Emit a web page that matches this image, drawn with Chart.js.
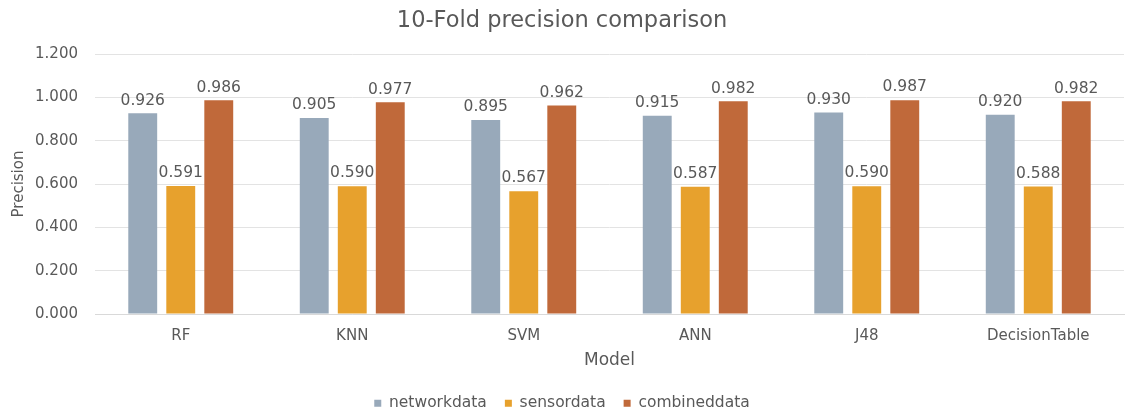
<!DOCTYPE html>
<html>
<head>
<meta charset="utf-8">
<title>10-Fold precision comparison</title>
<script src="https://cdn.jsdelivr.net/npm/chart.js@4.4.1/dist/chart.umd.min.js"></script>
<style>
  html, body { margin: 0; padding: 0; background: #ffffff; overflow: hidden; }
  #wrap { width: 1125px; height: 410px; }
</style>
</head>
<body>
<div id="wrap"><canvas id="chart" width="1125" height="410"></canvas></div>
<script>
// Models evaluated with 10-fold cross validation
const models = ['RF', 'KNN', 'SVM', 'ANN', 'J48', 'DecisionTable'];

// Precision per feature set
const networkdata  = [0.926, 0.905, 0.895, 0.915, 0.930, 0.920];
const sensordata   = [0.591, 0.590, 0.567, 0.587, 0.590, 0.588];
const combineddata = [0.986, 0.977, 0.962, 0.982, 0.987, 0.982];

// Value axis ticks
const yTicks = [0, 0.2, 0.4, 0.6, 0.8, 1.0, 1.2];

const FONT = 'DejaVu Sans';
const TEXT = '#595959';

// Writes each bar's value just above it
const valueLabels = {
  id: 'valueLabels',
  afterDatasetsDraw(chart) {
    const ctx = chart.ctx;
    ctx.save();
    ctx.font = '15.5px "' + FONT + '"';
    ctx.fillStyle = TEXT;
    ctx.textAlign = 'center';
    ctx.textBaseline = 'bottom';
    chart.data.datasets.forEach((ds, di) => {
      const meta = chart.getDatasetMeta(di);
      meta.data.forEach((bar, i) => {
        ctx.fillText(ds.data[i].toFixed(3), bar.x, bar.y - 5);
      });
    });
    ctx.restore();
  }
};

new Chart(document.getElementById('chart'), {
  type: 'bar',
  data: {
    labels: models,
    datasets: [
      { label: 'networkdata',  data: networkdata,  backgroundColor: '#98a9ba' },
      { label: 'sensordata',   data: sensordata,   backgroundColor: '#e7a12d' },
      { label: 'combineddata', data: combineddata, backgroundColor: '#c0693a' }
    ]
  },
  options: {
    responsive: false,
    animation: false,
    devicePixelRatio: 1,
    categoryPercentage: 0.665,
    barPercentage: 0.76,
    layout: { padding: { left: 0, right: 1, top: 0, bottom: -11 } },
    plugins: {
      title: {
        display: true,
        text: '10-Fold precision comparison',
        color: TEXT,
        font: { family: FONT, size: 22.5, weight: 'normal' },
        padding: { top: 7.5, bottom: 19.5 }
      },
      legend: {
        position: 'bottom',
        labels: {
          color: TEXT,
          font: { family: FONT, size: 15.5 },
          boxWidth: 7,
          boxHeight: 7,
          padding: 18
        }
      },
      tooltip: { enabled: false }
    },
    scales: {
      x: {
        afterFit(axis) { axis.height = 63.5; },
        grid: { display: false, drawTicks: false },
        border: { color: '#d9d9d9' },
        ticks: { color: TEXT, font: { family: FONT, size: 15 }, padding: 13 },
        title: {
          display: true,
          text: 'Model',
          color: TEXT,
          font: { family: FONT, size: 17 },
          padding: { top: 0, bottom: 6.3 }
        }
      },
      y: {
        min: 0,
        max: 1.2,
        afterBuildTicks(axis) { axis.ticks = yTicks.map(v => ({ value: v })); },
        afterFit(axis) { axis.width = 95; },
        grid: { color: '#e3e3e3', drawTicks: false },
        border: { display: false },
        ticks: {
          color: TEXT,
          font: { family: FONT, size: 15 },
          padding: 17,
          callback: v => Number(v).toFixed(3)
        },
        title: {
          display: true,
          text: 'Precision',
          color: TEXT,
          font: { family: FONT, size: 15 },
          padding: { top: 10, bottom: 0 }
        }
      }
    }
  },
  plugins: [valueLabels]
});
</script>
</body>
</html>
